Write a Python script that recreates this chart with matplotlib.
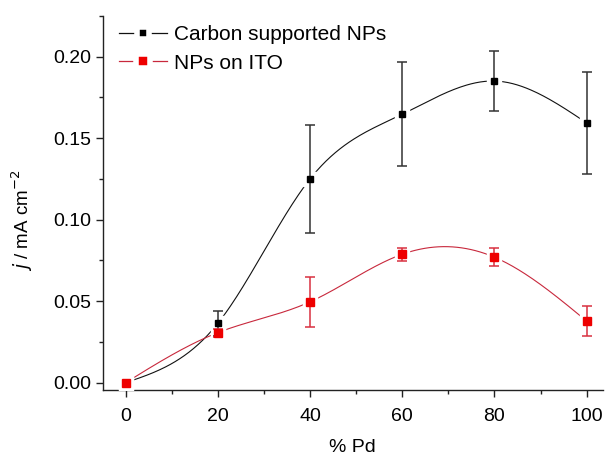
import numpy as np
import matplotlib.pyplot as plt
from matplotlib.lines import Line2D
from matplotlib.ticker import MultipleLocator

plt.rcParams['font.family'] = ['Liberation Sans', 'DejaVu Sans']

# data
pd_pct = [0, 20, 40, 60, 80, 100]
carbon_j = [0.0, 0.0364, 0.1250, 0.1647, 0.1851, 0.1594]
carbon_err = [0.0, 0.0078, 0.0330, 0.0320, 0.0183, 0.0314]
ito_j = [0.0, 0.0307, 0.0496, 0.0788, 0.0770, 0.0378]
ito_err = [0.0, 0.0025, 0.0152, 0.0040, 0.0057, 0.0092]


# natural cubic spline through the points (like Origin's spline connector)
def spline(x, y, n=300):
    x = np.asarray(x, float)
    y = np.asarray(y, float)
    k = len(x)
    h = np.diff(x)
    A = np.zeros((k, k))
    b = np.zeros(k)
    A[0, 0] = A[-1, -1] = 1
    for i in range(1, k - 1):
        A[i, i - 1] = h[i - 1]
        A[i, i] = 2 * (h[i - 1] + h[i])
        A[i, i + 1] = h[i]
        b[i] = 6 * ((y[i + 1] - y[i]) / h[i] - (y[i] - y[i - 1]) / h[i - 1])
    m = np.linalg.solve(A, b)
    xs = np.linspace(x[0], x[-1], n)
    idx = np.clip(np.searchsorted(x, xs) - 1, 0, k - 2)
    t = xs - x[idx]
    hi = h[idx]
    a = y[idx]
    bb = (y[idx + 1] - y[idx]) / hi - hi * (2 * m[idx] + m[idx + 1]) / 6
    c = m[idx] / 2
    d = (m[idx + 1] - m[idx]) / (6 * hi)
    return xs, a + bb * t + c * t ** 2 + d * t ** 3


fig = plt.figure(figsize=(6.07, 4.57), dpi=100)
ax = fig.add_axes([0.169, 0.1466, 0.824, 0.8184])

series = [
    (carbon_j, carbon_err, 'black', '#111111', '#333333', 4.6),
    (ito_j, ito_err, '#ee0000', '#c8283c', '#d83040', 5.6),
]
for ys, errs, mcol, lcol, ecol, ms in series:
    xs, sm = spline(pd_pct, ys)
    ax.plot(xs, sm, color=lcol, lw=0.8, zorder=2)
    # white knockout squares give the small gap between curve and marker
    ax.plot(pd_pct, ys, 's', color='white', ms=ms + 5, zorder=3)
    ax.errorbar(pd_pct[1:], ys[1:], yerr=errs[1:], fmt='none', ecolor=ecol,
                elinewidth=1.1, capsize=3.5, capthick=1.1, zorder=4)
    ax.plot(pd_pct, ys, 's', color=mcol, ms=ms, zorder=5)

ax.set_xlim(-5, 103.5)
ax.set_ylim(-0.0045, 0.225)
ax.xaxis.set_major_locator(MultipleLocator(20))
ax.xaxis.set_minor_locator(MultipleLocator(10))
ax.yaxis.set_major_locator(MultipleLocator(0.05))
ax.yaxis.set_minor_locator(MultipleLocator(0.025))
ax.yaxis.set_major_formatter(plt.FuncFormatter(lambda v, p: f'{v:.2f}'))

for s in ['top', 'right']:
    ax.spines[s].set_visible(False)
for s in ['left', 'bottom']:
    ax.spines[s].set_linewidth(1.0)
    ax.spines[s].set_color('#222222')

ax.tick_params(which='major', direction='out', length=5, width=1.0,
               labelsize=14, color='#222222')
ax.tick_params(which='minor', direction='out', length=3, width=1.0,
               color='#222222')
ax.tick_params(axis='x', which='major', pad=8)

ax.set_xlabel('% Pd', fontsize=14, labelpad=10)
ax.set_ylabel(r'$j$ / mA cm$^{-2}$', fontsize=13.5)
ax.yaxis.set_label_coords(-0.135, 0.455)

handles = [
    Line2D([], [], color='#111111', lw=0.9, marker='s', ms=8.6,
           mfc='black', mec='white', mew=4),
    Line2D([], [], color='#c8283c', lw=0.9, marker='s', ms=9.6,
           mfc='#ee0000', mec='white', mew=4),
]
ax.legend(handles, ['Carbon supported NPs', 'NPs on ITO'], loc='upper left',
          bbox_to_anchor=(0.0, 1.02), frameon=False, fontsize=15,
          handlelength=2.3, handletextpad=0.35, labelspacing=0.45,
          borderaxespad=0.4)

fig.savefig('out.png', dpi=100)
